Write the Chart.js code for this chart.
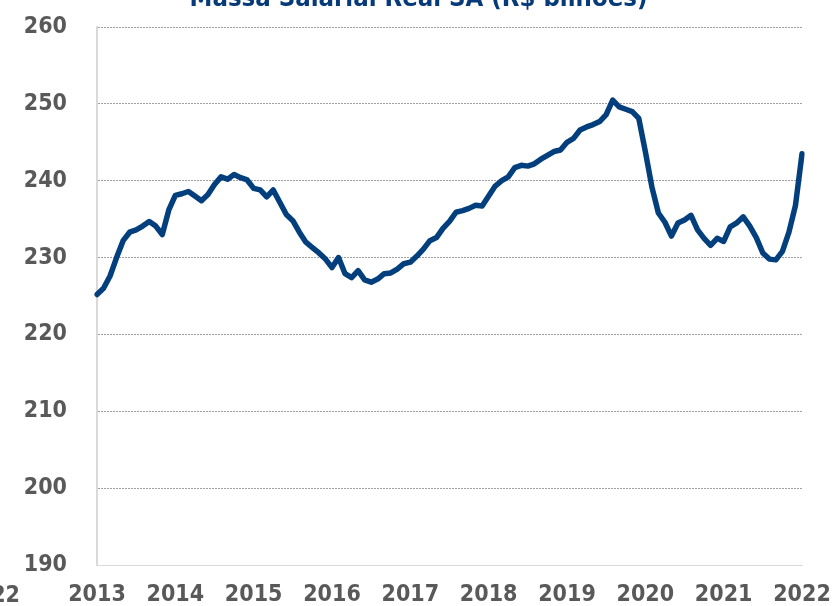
<!DOCTYPE html>
<html>
<head>
<meta charset="utf-8">
<script src="https://cdn.jsdelivr.net/npm/chart.js@4.4.1/dist/chart.umd.min.js"></script>
<style>
  html, body { margin: 0; padding: 0; background: #fff; overflow: hidden; }
  #wrap { position: relative; width: 837px; height: 606px; }
  .lbl { position: absolute; font-family: "DejaVu Sans Condensed", "Open Sans", sans-serif; font-weight: bold; white-space: nowrap; }
  #title { left: 0; width: 837px; text-align: center; top: -18px; font-size: 25.5px; color: #073a78; }
  #stray { right: 817px; top: 581px; font-size: 23px; color: #595959; }
</style>
</head>
<body>
<div id="wrap">
  <canvas id="chart" width="837" height="606"></canvas>
  <div id="title" class="lbl">Massa Salarial Real SA (R$ bilhões)</div>
  <div id="stray" class="lbl">2022</div>
</div>
<script>
// anos mostrados no eixo x (um rótulo a cada janeiro)
const yearLabels = ["2013", "2014", "2015", "2016", "2017", "2018", "2019", "2020", "2021", "2022"];

// massa salarial mensal, jan/2013 a jan/2022 (R$ bilhões)
const massa2013 = [225.2, 226.0, 227.6, 230.0, 232.2, 233.3, 233.6, 234.1, 234.7, 234.1, 233.0, 236.2];
const massa2014 = [238.1, 238.3, 238.6, 238.0, 237.4, 238.2, 239.5, 240.5, 240.2, 240.8, 240.4, 240.1];
const massa2015 = [239.0, 238.8, 237.9, 238.8, 237.2, 235.6, 234.8, 233.3, 232.0, 231.3, 230.6, 229.8];
const massa2016 = [228.7, 230.0, 227.9, 227.4, 228.3, 227.1, 226.8, 227.2, 227.9, 228.0, 228.5, 229.2];
const massa2017 = [229.4, 230.2, 231.1, 232.2, 232.6, 233.8, 234.7, 235.9, 236.1, 236.4, 236.8, 236.7];
const massa2018 = [238.0, 239.3, 240.0, 240.5, 241.7, 242.0, 241.9, 242.2, 242.8, 243.3, 243.8, 244.0];
const massa2019 = [245.0, 245.5, 246.6, 247.0, 247.3, 247.7, 248.6, 250.5, 249.6, 249.3, 249.0, 248.1];
const massa2020 = [243.8, 239.2, 235.8, 234.6, 232.8, 234.5, 234.9, 235.5, 233.6, 232.5, 231.6, 232.5];
const massa2021 = [232.1, 234.0, 234.5, 235.3, 234.1, 232.6, 230.6, 229.8, 229.7, 230.8, 233.3, 236.8];
const massa2022 = [243.5];

const yTicks = [190, 200, 210, 220, 230, 240, 250, 260];

const values = [].concat(massa2013, massa2014, massa2015, massa2016, massa2017,
  massa2018, massa2019, massa2020, massa2021, massa2022);
const labels = values.map((v, i) => (i % 12 === 0 ? yearLabels[i / 12] : ""));

const tickFont = { family: '"DejaVu Sans Condensed", "Open Sans", sans-serif', size: 23, weight: "bold" };

new Chart(document.getElementById("chart"), {
  type: "line",
  data: {
    labels: labels,
    datasets: [
      {
        data: values,
        borderColor: "#023f7c",
        borderWidth: 5.5,
        pointRadius: 0,
        tension: 0,
        borderJoinStyle: "round",
        borderCapStyle: "round",
      },
    ],
  },
  options: {
    responsive: false,
    animation: false,
    layout: { padding: { top: 27, right: 35, left: 0, bottom: 0 } },
    plugins: { legend: { display: false }, tooltip: { enabled: false } },
    scales: {
      x: {
        type: "category",
        offset: false,
        // tick marks kept invisible, only used to push the labels down
        grid: { drawOnChartArea: false, drawTicks: true, tickLength: 16, tickColor: "rgba(0,0,0,0)" },
        border: { display: true, color: "#d9d9d9", width: 1 },
        ticks: {
          autoSkip: false,
          maxRotation: 0,
          minRotation: 0,
          padding: 0,
          color: "#595959",
          font: tickFont,
        },
        afterFit: (scale) => { scale.height = 41; },
      },
      y: {
        min: 190,
        max: 260,
        afterBuildTicks: (scale) => { scale.ticks = yTicks.map((v) => ({ value: v })); },
        grid: {
          drawTicks: true,
          tickLength: 30,
          tickColor: "rgba(0,0,0,0)",
          color: (ctx) => (ctx.tick && ctx.tick.value === 190 ? "rgba(0,0,0,0)" : "#a0a0a0"),
          lineWidth: 1,
        },
        border: { display: true, color: "#d9d9d9", width: 2, dash: [2, 1] },
        ticks: { padding: 0, color: "#595959", font: tickFont },
        afterFit: (scale) => { scale.width = 97; },
      },
    },
  },
});
</script>
</body>
</html>
